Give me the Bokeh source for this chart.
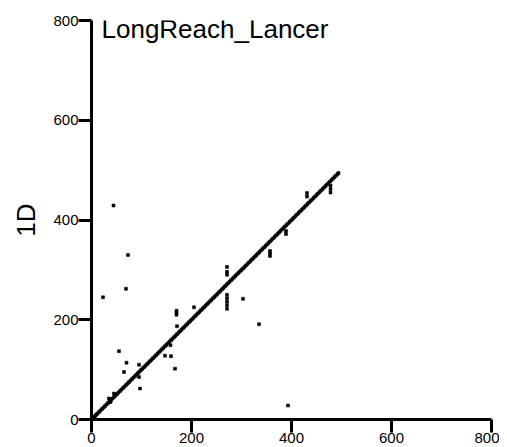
from bokeh.plotting import figure
from bokeh.models import ColumnDataSource, FixedTicker, Label
from bokeh.embed import file_html
from bokeh.resources import INLINE

# ---- data ----
title_text = "LongReach_Lancer"
y_label = "1D"
tick_values = [0, 200, 400, 600, 800]

# points lying on the diagonal (x equals y)
diag_vals = [0, 1, 2, 4, 6, 8, 10, 12, 15, 18, 21, 24, 27, 30, 33, 36, 39, 42, 45,
             48, 51, 54, 57, 60, 63, 66, 69, 72, 75, 78, 81, 84, 87, 90, 93, 96,
             99, 102, 105, 108, 111, 114, 117, 120, 123, 126, 129, 132, 135, 138,
             141, 144, 147, 150, 153, 156, 159, 162, 165, 168, 171, 174, 177, 180,
             183, 186, 189, 192, 195, 198, 201, 204, 207, 210, 213, 216, 219, 222,
             225, 228, 231, 234, 237, 240, 243, 246, 249, 252, 255, 258, 261, 264,
             267, 270, 273, 276, 279, 282, 285, 288, 291, 294, 297, 300, 303, 306,
             309, 312, 315, 318, 321, 324, 327, 330, 333, 336, 339, 342, 345, 348,
             351, 354, 357, 360, 363, 366, 369, 372, 375, 378, 381, 384, 387, 390,
             393, 396, 399, 402, 405, 408, 411, 414, 417, 420, 423, 426, 429, 432,
             435, 438, 441, 444, 447, 450, 453, 456, 459, 462, 465, 468, 471, 474,
             477, 480, 483, 486, 489, 492, 494]

# points off the diagonal
off_x = [44, 73, 69, 23, 55, 70, 65, 95, 97, 95, 147, 159, 167,
         170, 170, 170, 171, 205,
         271, 271, 271, 271, 271, 271, 271, 271,
         303, 335, 357, 357, 357, 389, 389, 431, 431, 478, 478, 478,
         393, 35, 45, 38, 158, 3, 2, 0]
off_y = [429, 330, 262, 245, 137, 114, 95, 110, 62, 85, 128, 127, 102,
         210, 214, 218, 187, 225,
         306, 296, 290, 250, 243, 236, 229, 222,
         242, 191, 328, 333, 338, 372, 378, 447, 454, 455, 462, 469,
         28, 42, 52, 35, 149, 0, 5, 3]

FONT = "Liberation Sans"

p = figure(frame_width=400, frame_height=399, x_range=(0, 800), y_range=(0, 800),
           output_backend="svg", toolbar_location=None,
           min_border_left=91, min_border_right=8, min_border_top=20,
           min_border_bottom=0)
p.outline_line_color = None
p.xgrid.visible = False
p.ygrid.visible = False
p.background_fill_color = "white"
p.border_fill_color = "white"

for ax in (p.xaxis[0], p.yaxis[0]):
    ax.ticker = FixedTicker(ticks=tick_values)
    ax.axis_line_width = 3
    ax.axis_line_color = "black"
    ax.major_tick_line_width = 3
    ax.major_tick_line_color = "black"
    ax.major_tick_out = 13
    ax.major_tick_in = 0
    ax.minor_tick_out = 0
    ax.minor_tick_in = 0
    ax.major_label_text_font = FONT
    ax.major_label_text_font_size = "15px"
    ax.major_label_text_color = "black"
    ax.major_label_standoff = 0

p.yaxis[0].axis_label = y_label
p.yaxis[0].axis_label_text_font = FONT
p.yaxis[0].axis_label_text_font_size = "26px"
p.yaxis[0].axis_label_text_font_style = "normal"
p.yaxis[0].axis_label_text_color = "black"
p.yaxis[0].axis_label_standoff = 9

diag_src = ColumnDataSource(data=dict(x=diag_vals, y=diag_vals))
off_src = ColumnDataSource(data=dict(x=off_x, y=off_y))

p.scatter("x", "y", source=diag_src, marker="square", size=3,
          fill_color="black", line_color="black", line_width=0.5)
p.scatter("x", "y", source=off_src, marker="square", size=3,
          fill_color="black", line_color="black", line_width=0.5)

p.add_layout(Label(x=20, y=783, text=title_text, text_font=FONT,
                   text_font_size="26px", text_color="black",
                   text_baseline="alphabetic", text_align="left"))

open("out.html", "w").write(file_html(p, INLINE))
